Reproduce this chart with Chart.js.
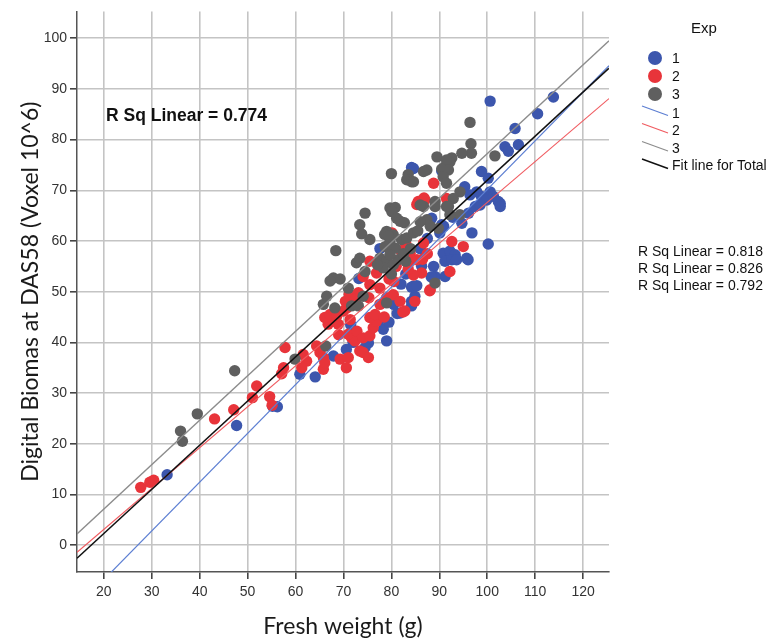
<!DOCTYPE html>
<html><head><meta charset="utf-8">
<script src="https://cdn.jsdelivr.net/npm/chart.js@4.4.1/dist/chart.umd.min.js"></script>
<style>
html,body{margin:0;padding:0;background:#fff;}
#wrap{position:relative;width:772px;height:643px;overflow:hidden;}
canvas{position:absolute;left:0;top:0;}
.t{position:absolute;font-family:"Liberation Sans",Arial,sans-serif;color:#111;white-space:nowrap;line-height:1;}
</style></head><body>
<div id="wrap">
<canvas id="c" width="772" height="643"></canvas>
<div class="t" style="left:106px;top:107px;font-size:17.5px;font-weight:bold;">R Sq Linear = 0.774</div>
<div class="t" style="left:691px;top:20px;font-size:15px;">Exp</div>
<div class="t" style="left:672px;top:51px;font-size:14px;">1</div>
<div class="t" style="left:672px;top:69px;font-size:14px;">2</div>
<div class="t" style="left:672px;top:87px;font-size:14px;">3</div>
<div class="t" style="left:672px;top:106px;font-size:14px;">1</div>
<div class="t" style="left:672px;top:123px;font-size:14px;">2</div>
<div class="t" style="left:672px;top:141px;font-size:14px;">3</div>
<div class="t" style="left:672px;top:158px;font-size:14px;">Fit line for Total</div>
<div class="t" style="left:638px;top:244px;font-size:14px;">R Sq Linear = 0.818</div>
<div class="t" style="left:638px;top:261px;font-size:14px;">R Sq Linear = 0.826</div>
<div class="t" style="left:638px;top:278px;font-size:14px;">R Sq Linear = 0.792</div>
</div>
<script>
// ---- data ----
const xTicks = [20,30,40,50,60,70,80,90,100,110,120];
const yTicks = [0,10,20,30,40,50,60,70,80,90,100];

const exp1Points = [[33.2,13.9],[47.7,23.6],[55.2,27.4],[56.2,27.3],[60.9,33.7],[64.1,33.2],[67.9,37.3],[70.6,38.6],[75.2,39.9],[79.0,40.3],[78.3,42.6],[77.6,44.5],[71.5,43.5],[73.2,52.6],[77.6,58.5],[81.8,45.8],[81.2,45.7],[84.2,48.1],[84.2,47.2],[84.9,49.1],[84.6,51.1],[84.2,50.9],[85.3,51.2],[86.3,55.0],[88.8,55.0],[89.1,53.0],[91.2,53.0],[88.3,52.9],[90.8,57.6],[92.2,58.0],[93.3,57.3],[91.2,56.0],[92.6,56.3],[93.6,56.3],[95.7,56.6],[96.0,56.3],[96.8,61.6],[100.2,59.4],[94.7,63.5],[96.1,65.5],[97.5,66.8],[102.7,67.4],[88.4,64.5],[90.5,63.2],[90.1,61.6],[92.8,64.7],[90.9,62.9],[84.2,74.5],[84.6,74.3],[90.5,73.8],[98.8,73.7],[100.2,72.4],[100.6,69.7],[97.8,69.7],[98.8,68.8],[99.9,68.1],[101.3,68.8],[102.3,67.8],[102.7,66.8],[95.3,70.7],[96.4,69.1],[98.5,67.1],[100.6,87.6],[110.5,85.1],[113.8,88.4],[105.8,82.2],[106.5,79.0],[103.7,78.6],[104.4,77.7],[82.0,51.5],[80.5,47.5],[79.5,44.0],[83.0,53.5],[86.0,58.5],[87.5,60.5],[72.0,40.0],[74.5,39.0]];

const exp2Points = [[27.7,11.4],[29.6,12.4],[30.4,12.8],[43.1,24.9],[47.1,26.7],[51.0,29.1],[51.9,31.4],[54.6,29.3],[55.1,27.6],[57.1,33.8],[57.5,35.0],[57.8,39.0],[61.6,37.6],[62.3,36.3],[61.3,35.0],[64.4,39.3],[65.1,38.0],[65.8,37.0],[65.8,34.7],[66.1,36.0],[69.3,36.7],[71.0,37.0],[70.6,35.0],[73.4,38.3],[74.1,38.0],[75.2,37.0],[71.7,40.9],[72.4,40.3],[71.0,41.6],[66.8,43.6],[67.9,44.2],[68.9,43.6],[66.1,44.9],[67.2,45.5],[68.6,45.2],[70.0,46.2],[70.7,46.8],[71.4,44.5],[72.8,42.2],[74.1,40.9],[75.5,41.3],[76.2,42.9],[76.9,44.2],[75.5,44.9],[76.6,45.5],[77.6,47.5],[79.0,48.8],[80.4,49.4],[81.8,48.1],[82.8,46.2],[82.4,46.0],[70.4,48.1],[71.2,49.5],[75.5,56.0],[76.9,53.7],[74.1,53.0],[75.5,51.4],[77.6,50.7],[73.1,49.8],[75.3,48.8],[85.3,67.2],[86.8,68.5],[88.8,71.4],[85.6,67.8],[87.0,68.1],[91.5,68.4],[92.6,59.9],[95.0,58.9],[92.2,54.0],[88.1,50.4],[84.9,48.1],[86.3,53.7],[84.2,56.3],[86.7,59.6],[83.9,57.6],[85.3,56.3],[80.1,61.6],[82.0,58.1],[84.6,53.3],[86.5,56.4],[88.0,50.2],[83.0,59.5],[81.0,55.0],[79.5,52.5],[78.0,55.5],[80.5,52.0],[83.5,54.5],[87.5,57.5],[72.5,48.5],[69.0,41.5],[78.5,45.0]];

const exp3Points = [[36.0,22.5],[36.4,20.5],[39.5,25.9],[47.3,34.4],[59.9,36.7],[66.3,39.3],[65.8,47.5],[68.2,46.8],[71.7,47.2],[73.1,47.2],[79.0,47.8],[74.1,49.1],[66.5,49.1],[71.0,50.7],[67.9,52.7],[69.3,52.5],[67.2,52.1],[72.7,55.7],[73.4,56.6],[74.5,54.0],[68.4,58.1],[73.4,63.2],[73.8,61.4],[75.5,60.3],[74.5,65.5],[79.7,66.5],[80.8,66.6],[80.1,65.8],[81.1,64.5],[81.8,63.9],[80.0,73.3],[83.5,73.1],[83.2,72.1],[84.2,71.7],[79.0,61.9],[80.4,61.2],[79.7,59.9],[78.7,58.9],[80.8,58.6],[82.1,60.3],[83.2,60.6],[84.6,61.6],[77.6,56.6],[79.0,56.0],[78.3,54.7],[80.4,55.3],[81.4,56.3],[79.7,57.3],[96.4,83.4],[96.6,79.2],[96.7,77.3],[94.7,77.3],[92.6,76.4],[92.2,75.6],[91.2,74.7],[101.6,76.8],[89.5,76.6],[91.5,76.0],[91.9,74.0],[90.5,74.2],[90.8,72.7],[87.4,74.0],[86.7,73.7],[84.6,71.7],[91.5,71.4],[94.3,69.7],[92.9,68.4],[89.1,67.8],[86.7,66.8],[91.5,66.8],[86.0,67.1],[89.1,66.8],[91.9,66.8],[94.3,65.2],[92.2,65.2],[87.4,64.2],[86.0,63.8],[88.1,62.9],[89.8,62.5],[89.1,51.7],[77.1,55.3],[78.6,61.3],[79.4,61.0],[82.7,63.6],[82.5,57.5],[84.0,58.5],[85.5,62.0],[83.0,56.0],[80.0,53.5]];

// fit-line end points read at the left and right plot edges
const fitX = [14.4, 125.4];
const fit1Y = [-12.2, 94.6];
const fit2Y = [-1.4, 88.1];
const fit3Y = [2.2, 99.5];
const fitTotalY = [-2.6, 94.1];

// ---- styles ----
const C1 = '#3c56ad', C2 = '#e8343a', C3 = '#5f5f5f';
const L1 = '#5c7ed2', L2 = '#f05b60', L3 = '#8c8c8c', LT = '#111111';

const toXY = a => a.map(p => ({x:p[0], y:p[1]}));
const lineXY = ys => fitX.map((x,i) => ({x:x, y:ys[i]}));

function ptSet(label, pts, col){
  return {label, data: toXY(pts), backgroundColor: col, borderWidth: 0,
          pointRadius: 5.7, pointHoverRadius: 5.7, showLine:false};
}
function lnSet(label, ys, col, w){
  return {label, data: lineXY(ys), borderColor: col, borderWidth: w, showLine: true,
          pointRadius: 0, pointHoverRadius: 0, fill:false, tension:0};
}

const legendMarks = {
  id: 'legendMarks',
  afterDraw(chart){
    const ctx = chart.ctx;
    ctx.save();
    [[58,C1],[76,C2],[94,C3]].forEach(([y,c])=>{
      ctx.beginPath(); ctx.arc(655, y, 7, 0, Math.PI*2); ctx.fillStyle=c; ctx.fill();
    });
    [[106,L1],[123.5,L2],[141.5,L3],[159,LT]].forEach(([y,c])=>{
      ctx.beginPath(); ctx.moveTo(642, y); ctx.lineTo(668, y+9.5);
      ctx.strokeStyle=c; ctx.lineWidth = (c===LT?1.4:1.2); ctx.stroke();
    });
    ctx.restore();
  }
};

const tickFont = {family:'"Liberation Sans", Arial, sans-serif', size:14};
const titleFont = {family:'Lato, "Open Sans", sans-serif', size:23};

new Chart(document.getElementById('c'), {
  type: 'scatter',
  data: { datasets: [
    lnSet('Fit line for Total', fitTotalY, LT, 1.5),
    lnSet('1', fit1Y, L1, 1.2),
    lnSet('2', fit2Y, L2, 1.2),
    lnSet('3', fit3Y, L3, 1.3),
    ptSet('3', exp3Points, C3),
    ptSet('2', exp2Points, C2),
    ptSet('1', exp1Points, C1)
  ]},
  options: {
    responsive: false, animation: false, devicePixelRatio: 1,
    layout: { padding: { left: 0, right: 163, top: 9, bottom: 0 } },
    plugins: { legend: { display: false }, tooltip: { enabled: false } },
    scales: {
      x: {
        type: 'linear', min: 14.4, max: 125.4,
        afterBuildTicks(s){ s.ticks = xTicks.map(v => ({value: v})); },
        afterFit(s){ s.height = 71; },
        grid: { color: '#c4c4c4', lineWidth: 1.6, tickColor: '#444', tickLength: 7 },
        border: { color: '#555', width: 1.5 },
        ticks: { font: tickFont, color: '#333', padding: 5, maxRotation: 0 },
        title: { display: true, text: 'Fresh weight (g)', font: titleFont, color: '#1a1a1a', padding: { top: 0, bottom: 3 } }
      },
      y: {
        type: 'linear', min: -5.3, max: 105.3,
        afterBuildTicks(s){ s.ticks = yTicks.map(v => ({value: v})); },
        afterFit(s){ s.width = 77; },
        grid: { color: '#c4c4c4', lineWidth: 1.6, tickColor: '#444', tickLength: 7 },
        border: { color: '#555', width: 1.5 },
        ticks: { font: tickFont, color: '#333', padding: 3 },
        title: { display: true, text: 'Digital Biomas at DAS58 (Voxel 10^6)', font: titleFont, color: '#1a1a1a', padding: { top: 17, bottom: 0 } }
      }
    }
  },
  plugins: [legendMarks]
});
</script>
</body></html>
